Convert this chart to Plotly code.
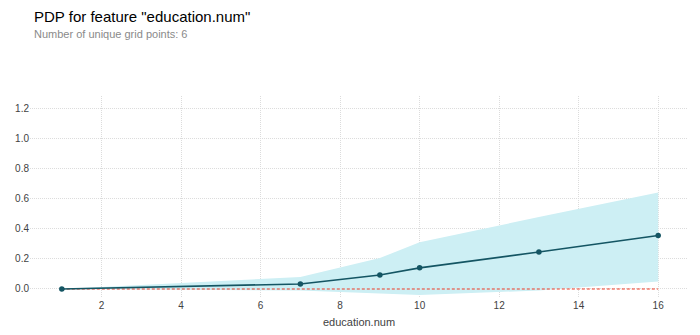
import plotly.graph_objects as go

grid_x = [1, 7, 9, 10, 13, 16]
pdp_mean = [0.0, 0.033, 0.093, 0.14, 0.245, 0.355]
pdp_upper = [0.0, 0.08, 0.205, 0.31, 0.477, 0.64]
pdp_lower = [0.0, -0.01, -0.03, -0.04, -0.01, 0.05]
x_ticks = [2, 4, 6, 8, 10, 12, 14, 16]
y_ticks = [0.0, 0.2, 0.4, 0.6, 0.8, 1.0, 1.2]

LINE = "#145563"
FONT = "Liberation Sans, Arial, sans-serif"

fig = go.Figure()
fig.add_trace(go.Scatter(x=grid_x, y=pdp_upper, mode="lines", line=dict(width=0),
                         hoverinfo="skip", showlegend=False))
fig.add_trace(go.Scatter(x=grid_x, y=pdp_lower, mode="lines", line=dict(width=0),
                         fill="tonexty", fillcolor="#CDEFF4",
                         hoverinfo="skip", showlegend=False))
fig.add_trace(go.Scatter(x=[grid_x[0], grid_x[-1]], y=[0, 0], mode="lines",
                         line=dict(color="#EE3A25", width=1.1, dash="3px,2px"),
                         showlegend=False))
fig.add_trace(go.Scatter(x=grid_x, y=pdp_mean, mode="lines+markers",
                         line=dict(color=LINE, width=1.6),
                         marker=dict(color=LINE, size=5.5), showlegend=False))

fig.update_layout(
    width=700, height=335,
    margin=dict(l=30, r=12, t=96, b=37),
    plot_bgcolor="white", paper_bgcolor="white",
    font=dict(family=FONT, size=10, color="#424242"),
    xaxis=dict(range=[0.2, 16.75], tickvals=x_ticks, showgrid=True, automargin=False,
               gridcolor="#dcdcdc", griddash="1px,1px", gridwidth=1,
               zeroline=False, showline=False, ticks="",
               title=dict(text="education.num", font=dict(size=11, color="#424242"), standoff=8),
               tickfont=dict(size=10, color="#424242")),
    yaxis=dict(range=[-0.06, 1.28], tickvals=y_ticks, tickformat=".1f", automargin=False,
               showgrid=True, gridcolor="#dcdcdc", griddash="1px,1px", gridwidth=1,
               zeroline=False, showline=False, ticks="",
               tickfont=dict(size=10, color="#424242")),
    annotations=[
        dict(text='PDP for feature "education.num"', xref="paper", yref="paper",
             x=0.003, y=1.0, xanchor="left", yanchor="bottom", yshift=69,
             showarrow=False, font=dict(size=15, color="#000000", family=FONT)),
        dict(text="Number of unique grid points: 6", xref="paper", yref="paper",
             x=0.003, y=1.0, xanchor="left", yanchor="bottom", yshift=54,
             showarrow=False, font=dict(size=11, color="#8a8a8a", family=FONT)),
    ],
)

fig.write_html("out.html")
